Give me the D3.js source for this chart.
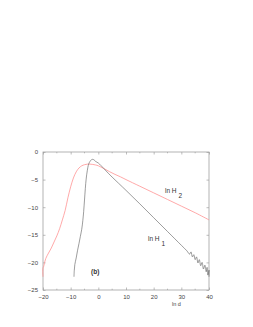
<!DOCTYPE html>
<html>
<head>
<meta charset="utf-8">
<script src="https://cdn.jsdelivr.net/npm/d3@7"></script>
<style>
  body { margin: 0; background: #fff; }
  svg { display: block; font-family: "Liberation Sans", Arial, sans-serif; }
</style>
</head>
<body>
<svg id="chart" width="253" height="327"></svg>
<script>
// ln H2 (red curve)
const h2X = [-20, -20, -19.8, -19.5, -19, -18, -17, -16, -15, -14, -13, -12, -11, -10, -9, -8, -7, -6, -5, -4, -3, -2, -1, 0, 2, 4, 6, 8, 10, 15, 20, 25, 30, 35, 40];
const h2Y = [-22.6, -21.0, -20.8, -20.2, -19.3, -18.3, -17.4, -16.3, -15.2, -13.9, -12.3, -10.6, -8.3, -6.3, -4.7, -3.6, -2.9, -2.5, -2.3, -2.2, -2.2, -2.25, -2.35, -2.5, -3.0, -3.55, -4.05, -4.5, -5.0, -6.2, -7.4, -8.6, -9.8, -11.0, -12.3];

// ln H1 (black curve)
const h1X = [-8.8, -8.7, -8.5, -8, -7.5, -7, -6.5, -6, -5.6, -5.3, -5, -4.7, -4.4, -4, -3.5, -3, -2.5, -2, -1.5, -1, 0, 2, 3.6, 5, 10, 15, 20, 25, 30, 32, 33, 33.5, 34, 34.5, 35, 35.5, 36, 36.5, 37, 37.5, 38, 38.5, 39, 39.3, 39.6, 40, 40];
const h1Y = [-22.6, -21.5, -20.4, -19.2, -17.8, -16.6, -15.3, -14.0, -12.4, -10.8, -8.7, -6.6, -4.9, -3.4, -2.2, -1.7, -1.4, -1.33, -1.45, -1.7, -2.0, -3.0, -3.85, -4.55, -6.95, -9.4, -11.9, -14.4, -16.9, -17.9, -18.5, -18.1, -19.0, -18.6, -19.5, -19.0, -20.1, -19.5, -20.6, -20.0, -21.2, -20.5, -21.7, -20.9, -22.3, -21.4, -22.6];

const xTicks = [-20, -10, 0, 10, 20, 30, 40];
const xMinorTicks = [-15, -5, 5, 15, 25, 35];
const yTicks = [0, -5, -10, -15, -20, -25];

const margin = { left: 43, right: 44, top: 152, bottom: 37 };
const width = 253, height = 327;
const innerWidth = width - margin.left - margin.right;
const innerHeight = height - margin.top - margin.bottom;

const svg = d3.select("#chart");
const innerChart = svg.append("g")
  .attr("transform", `translate(${margin.left}, ${margin.top})`);

const xScale = d3.scaleLinear().domain([-20, 40]).range([0, innerWidth]);
const yScale = d3.scaleLinear().domain([-25, 0]).range([innerHeight, 0]);

const frameColor = "#a0a0a0";
const labelColor = "#444";

// tick marks drawn inward, mirrored on top and right
const bottomAxis = d3.axisBottom(xScale).tickValues(xTicks)
  .tickSize(-2.5).tickPadding(5).tickFormat(d3.format("d"));
const topAxis = d3.axisTop(xScale).tickValues(xTicks).tickSize(-2.5).tickFormat("");
const leftAxis = d3.axisLeft(yScale).tickValues(yTicks)
  .tickSize(-2.5).tickPadding(5).tickFormat(d3.format("d"));
const rightAxis = d3.axisRight(yScale).tickValues(yTicks).tickSize(-2.5).tickFormat("");

const styleAxis = (g) => {
  g.attr("font-size", 6).attr("font-family", "Liberation Sans, Arial, sans-serif");
  g.select(".domain").remove();
  g.selectAll(".tick line").attr("stroke", frameColor).attr("stroke-width", 0.7);
  g.selectAll("text").attr("fill", labelColor);
};

innerChart.append("g").attr("transform", `translate(0, ${innerHeight})`)
  .call(bottomAxis).call(styleAxis);
innerChart.append("g").call(topAxis).call(styleAxis);
innerChart.append("g").call(leftAxis).call(styleAxis);
innerChart.append("g").attr("transform", `translate(${innerWidth}, 0)`)
  .call(rightAxis).call(styleAxis);

// minor x ticks
[0, innerHeight].forEach((yPos) => {
  innerChart.append("g").selectAll("line").data(xMinorTicks).join("line")
    .attr("x1", (d) => xScale(d)).attr("x2", (d) => xScale(d))
    .attr("y1", yPos).attr("y2", yPos === 0 ? 1.3 : yPos - 1.3)
    .attr("stroke", frameColor).attr("stroke-width", 0.7);
});

innerChart.append("rect")
  .attr("width", innerWidth).attr("height", innerHeight)
  .attr("fill", "none").attr("stroke", frameColor).attr("stroke-width", 0.8);

const line = d3.line()
  .x((d) => xScale(d[0])).y((d) => yScale(d[1]))
  .curve(d3.curveCatmullRom.alpha(0.5));

innerChart.append("path")
  .datum(h2X.map((x, i) => [x, h2Y[i]]))
  .attr("d", line)
  .attr("fill", "none").attr("stroke", "#ff8c8c").attr("stroke-width", 0.75);

innerChart.append("path")
  .datum(h1X.map((x, i) => [x, h1Y[i]]))
  .attr("d", line)
  .attr("fill", "none").attr("stroke", "#5a5a5a").attr("stroke-width", 0.6);

// labels
const addLabel = (x, y, main, sub) => {
  const t = svg.append("text").attr("x", x).attr("y", y)
    .attr("font-size", 6.5).attr("fill", "#333");
  t.append("tspan").text(main);
  if (sub) t.append("tspan").attr("dx", 2).attr("dy", 5).text(sub);
};
addLabel(165, 193, "ln H", "2");
addLabel(148, 241, "ln H", "1");

svg.append("text").attr("x", 91).attr("y", 274)
  .attr("font-size", 6.5).attr("font-weight", 700).attr("fill", "#333")
  .text("(b)");
svg.append("text").attr("x", 172).attr("y", 306)
  .attr("font-size", 5.5).attr("fill", "#444").text("ln d");
</script>
</body>
</html>
